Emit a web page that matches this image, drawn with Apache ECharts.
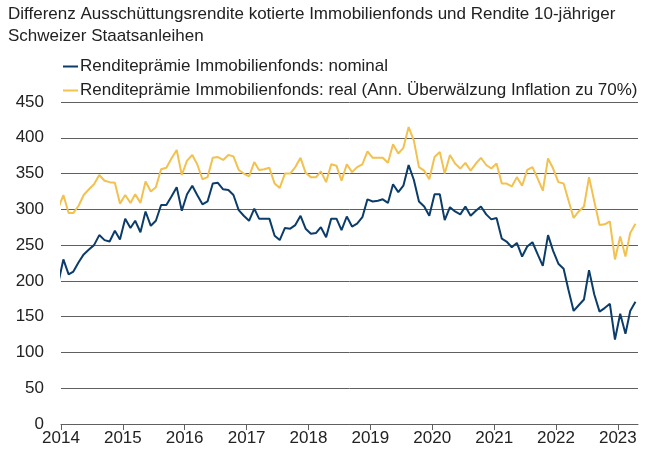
<!DOCTYPE html>
<html style="height: 100%">

<head>
    <meta charset="utf-8">
</head>

<body style="height: 100%;width: 100%;margin: 0;">
    <div id="container" style="height: 453px;width: 662px;"></div>
    <script type="text/javascript" src="https://cdn.jsdelivr.net/npm/echarts/dist/echarts.min.js"></script>
    <script type="text/javascript">
        // monthly values, first one is Dec 2013 (clipped at the axis start), last one Apr 2023
        var nominal = [196, 230, 209, 213, 226, 237, 244, 250, 264, 257, 255, 270, 258,
            287, 274, 284, 268, 297, 277, 284, 306, 306, 318, 331, 298,
            321, 333, 320, 307, 311, 336, 337, 328, 327, 320, 299, 291,
            284, 301, 287, 287, 287, 263, 257, 274, 273, 278, 291, 273,
            266, 267, 275, 261, 287, 287, 271, 290, 276, 280, 289, 314,
            311, 312, 314, 309, 335, 324, 333, 362, 341, 311, 304, 291,
            321, 321, 285, 303, 297, 293, 304, 291, 298, 304, 293, 286,
            288, 259, 255, 247, 253, 234, 248, 254, 237, 221, 264, 242,
            224, 217, 188, 158, 166, 174, 215, 181, 157, 162, 168, 118,
            154, 126, 158, 171];
        var real = [301, 320, 295, 295, 305, 320, 328, 335, 348, 340, 338, 337, 308,
            320, 309, 321, 309, 339, 325, 331, 356, 358, 371, 383, 348,
            368, 376, 363, 342, 345, 372, 373, 369, 376, 374, 355, 350,
            346, 366, 355, 356, 358, 336, 330, 350, 350, 359, 372, 351,
            345, 345, 353, 338, 363, 361, 340, 363, 352, 359, 363, 381,
            372, 372, 372, 365, 391, 378, 386, 415, 396, 359, 354, 342,
            373, 380, 350, 376, 364, 357, 365, 354, 364, 372, 362, 357,
            364, 336, 336, 332, 345, 333, 355, 359, 343, 326, 371, 357,
            338, 336, 313, 288, 297, 304, 345, 311, 278, 279, 283, 230,
            262, 234, 267, 280];
        var startYear = 2013, startMonth = 12;
        var yTicks = [0, 50, 100, 150, 200, 250, 300, 350, 400, 450];

        var months = [];
        for (var i = 0; i < nominal.length; i++) {
            var m = startMonth - 1 + i;
            var y = startYear + Math.floor(m / 12);
            var mm = (m % 12) + 1;
            months.push(y + '-' + (mm < 10 ? '0' + mm : mm) + '-15');
        }

        var dom = document.getElementById("container");
        var myChart = echarts.init(dom);
        var font = 'Liberation Sans, Arial, Helvetica, sans-serif';
        var YEAR = 365 * 24 * 3600 * 1000;

        var option = {
            animation: false,
            title: {
                text: 'Differenz Ausschüttungsrendite kotierte Immobilienfonds und Rendite 10-jähriger\nSchweizer Staatsanleihen',
                left: 8,
                top: 3,
                padding: 0,
                textStyle: {
                    fontFamily: font,
                    fontSize: 17,
                    fontWeight: 'normal',
                    color: '#222',
                    lineHeight: 22
                }
            },
            legend: {
                orient: 'vertical',
                left: 58,
                top: 53,
                itemGap: 7,
                itemWidth: 15,
                itemHeight: 2,
                icon: 'rect',
                textStyle: {
                    fontFamily: font,
                    fontSize: 17,
                    color: '#222',
                    padding: [0, 0, 0, -3]
                },
                data: ['Renditeprämie Immobilienfonds: nominal',
                    'Renditeprämie Immobilienfonds: real (Ann. Überwälzung Inflation zu 70%)']
            },
            grid: {
                left: 61,
                right: 24,
                top: 102,
                bottom: 29
            },
            xAxis: {
                type: 'time',
                min: '2014-01-01',
                max: '2023-04-30',
                minInterval: YEAR,
                maxInterval: YEAR + 24 * 3600 * 1000,
                axisLine: { lineStyle: { color: '#5f5f5f', width: 1 } },
                axisTick: { length: 6, lineStyle: { color: '#5f5f5f' } },
                axisLabel: {
                    formatter: '{yyyy}',
                    fontFamily: font,
                    fontSize: 17,
                    color: '#222',
                    margin: 6
                },
                splitLine: { show: false }
            },
            yAxis: {
                type: 'value',
                min: yTicks[0],
                max: yTicks[yTicks.length - 1],
                interval: 50,
                axisLine: { show: false },
                axisTick: { show: false },
                axisLabel: {
                    fontFamily: font,
                    fontSize: 17,
                    color: '#222',
                    margin: 17
                },
                splitLine: { lineStyle: { color: '#5f5f5f', width: 1 } }
            },
            series: [{
                name: 'Renditeprämie Immobilienfonds: nominal',
                type: 'line',
                showSymbol: false,
                color: '#0b3c6a',
                lineStyle: { width: 2, color: '#0b3c6a' },
                data: months.map(function (d, i) { return [d, nominal[i]]; })
            }, {
                name: 'Renditeprämie Immobilienfonds: real (Ann. Überwälzung Inflation zu 70%)',
                type: 'line',
                showSymbol: false,
                color: '#f2c14f',
                lineStyle: { width: 2, color: '#f2c14f' },
                data: months.map(function (d, i) { return [d, real[i]]; })
            }]
        };

        myChart.setOption(option);
        window.onresize = myChart.resize;
    </script>
</body>

</html>
